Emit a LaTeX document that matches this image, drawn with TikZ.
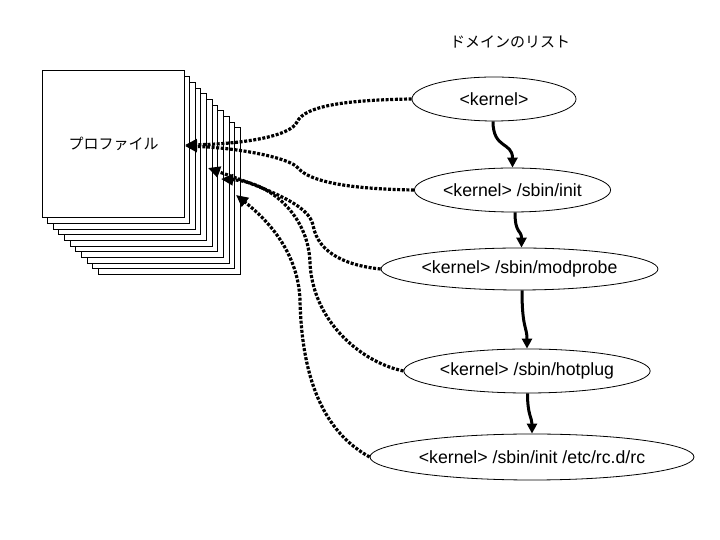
\documentclass[tikz,border=0pt]{standalone}
\usepackage{fontspec}
\setmainfont{Liberation Sans}
\newfontfamily\jp{Noto Sans CJK JP}
\usetikzlibrary{shapes.geometric,arrows.meta}
\tikzset{
  ell/.style={draw, ellipse, line width=0.8pt, inner sep=0pt, font=\fontsize{17.7}{20}\selectfont},
  flow/.style={line width=3pt, -{Triangle[length=10pt,width=10pt]}},
  refarrow/.style={line width=3.2pt, dash pattern=on 3pt off 1.6pt, -{Triangle[length=12pt,width=11pt]}},
  page/.style={draw, fill=white, line width=1pt},
  jptext/.style={font=\jp\fontsize{15}{18}\selectfont},
}
\begin{document}
\begin{tikzpicture}[x=1pt,y=1pt]
\useasboundingbox (0,0) rectangle (720,540);
% stack of pages
\foreach \i in {10,9,...,1} {
  \draw[page] ({42+5.65*\i},{322-5.65*\i}) rectangle ++(142,146.7);
}
\node[page, anchor=south west, minimum width=142pt, minimum height=146.7pt, inner sep=0pt, jptext] (prof) at (42,322) {プロファイル};
% title
\node[jptext] (title) at (510,498.3) {ドメインのリスト};
% ellipses
\node[ell, minimum width=164pt, minimum height=44pt] (k0) at (494,441) {<kernel>};
\node[ell, minimum width=193pt, minimum height=44pt] (k1) at (512.5,350) {<kernel> /sbin/init};
\node[ell, minimum width=225pt, minimum height=42pt] (k2) at (519.5,271) {<kernel> /sbin/modprobe};
\node[ell, minimum width=220pt, minimum height=44pt] (k3) at (527,169) {<kernel> /sbin/hotplug};
\node[ell, minimum width=324pt, minimum height=46pt] (k4) at (532,83) {<kernel> /sbin/init /etc/rc.d/rc};
% tip coordinates on the page stack
\coordinate (t1) at (185,395);
\coordinate (t2) at (185,394);
\coordinate (t3) at (208,372);
\coordinate (t4) at (221,361);
\coordinate (t5) at (236,345);
% solid flow arrows
\draw[flow] ([xshift=-1pt]k0.south) .. controls +(0,-28) and +(0,26) .. (k1.north);
\draw[flow] ([xshift=2.5pt]k1.south) .. controls +(0,-22) and +(0,18) .. ([xshift=2pt]k2.north);
\draw[flow] ([xshift=2.5pt]k2.south) .. controls +(0,-38) and +(0,22) .. ([xshift=0pt]k3.north);
\draw[flow] ([xshift=0.5pt]k3.south) .. controls +(0,-22) and +(0,16) .. (k4.north);
% dotted reference arrows
\draw[refarrow] (k0.west) .. controls (350,440) and (305,435) .. (297,418)
   .. controls (290,403) and (240,396) .. (t1);
\draw[refarrow] (k1.west) .. controls (350,351) and (310,358) .. (298,372)
   .. controls (290,382) and (240,392) .. (t2);
\draw[refarrow] (k2.west) .. controls (350,274) and (318,285) .. (313,315)
   .. controls (309,335) and (270,350) .. (t3);
\draw[refarrow] (k3.west) .. controls (360,178) and (312,220) .. (310,278)
   .. controls (308,325) and (270,358) .. (t4);
\draw[refarrow] (k4.west) .. controls (330,105) and (302,150) .. (300,240)
   .. controls (298,290) and (265,322) .. (t5);
\end{tikzpicture}
\end{document}
